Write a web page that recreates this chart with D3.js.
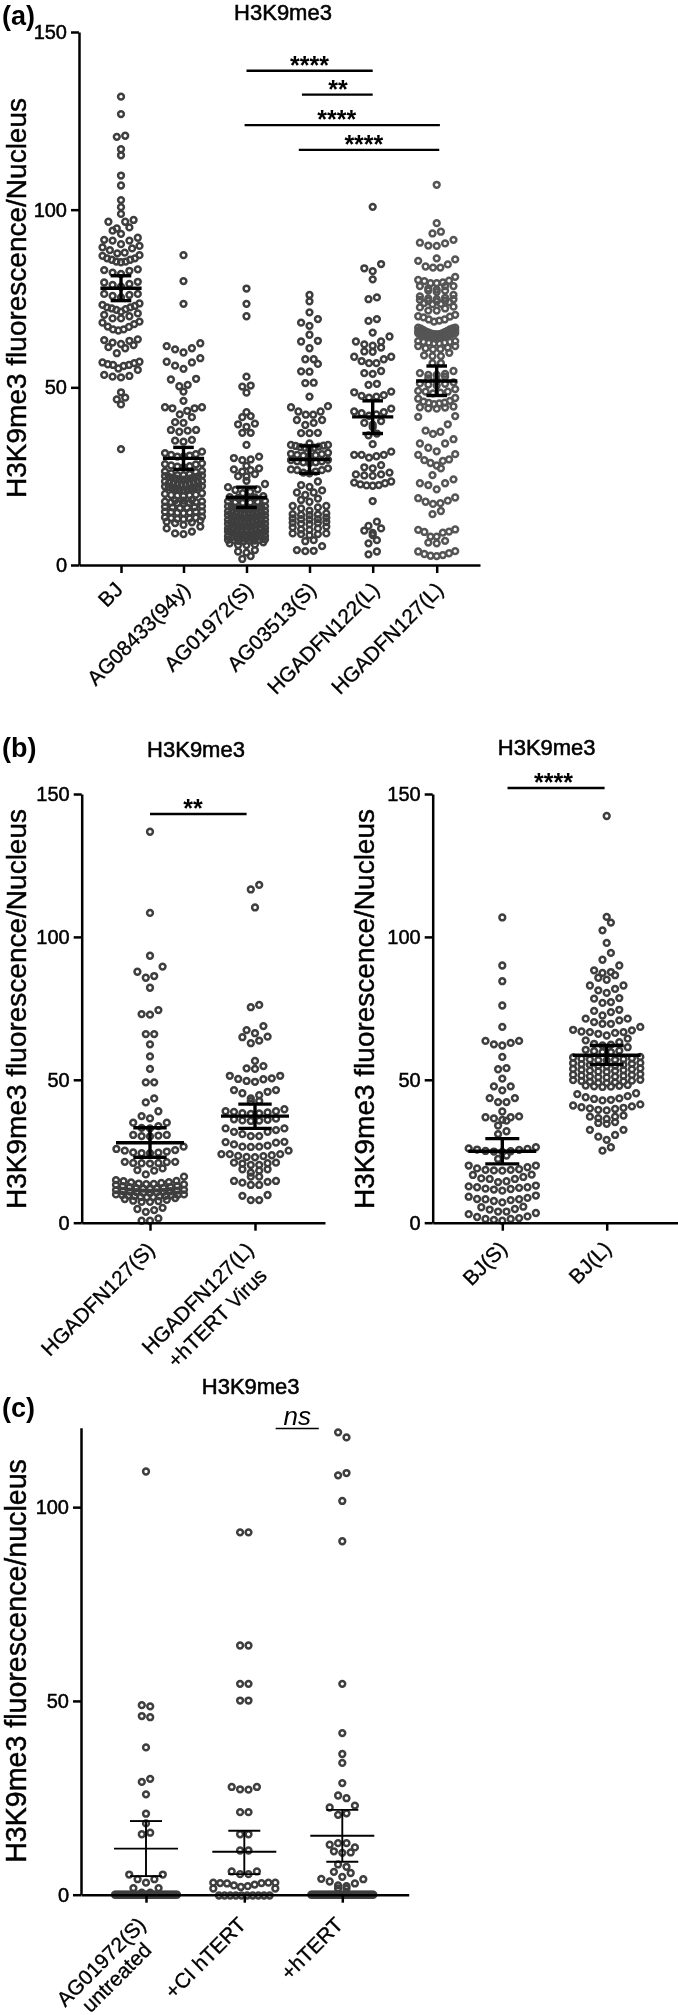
<!DOCTYPE html>
<html><head><meta charset="utf-8">
<script src="https://cdn.jsdelivr.net/npm/d3@7"></script>
<style>
html,body{margin:0;padding:0;background:#fff}
svg{display:block;filter:blur(0.35px)}
text{font-family:"Liberation Sans",Arial,sans-serif;fill:#000}
</style></head><body><svg id="chart" width="678" height="2015"></svg>
<script>
// ---------- DATA (each inner list is one row of the swarm) ----------
const aCategories = ["BJ","AG08433(94y)","AG01972(S)","AG03513(S)","HGADFN122(L)","HGADFN127(L)"];
const bjRows = [[131.8],[126.9],[120.8,120.5],[117],[115.3],[109.6],[106.8],[102.7],[100.7],[98.8],
 [97.1,96.6,96.6,94.7],[95,94.1,93.2],[92.1,91.5,91.3,91.3,90.3],[89.8,89.4,89.1,88.6,87.9,87.7],
 [87.2,87,86.3,86.3,85.9,85.9,85.4,85.4,85.2],[83.2,83,82.8,82.3,81.9],[79.7,79.5,79.1,78.8,78.3],
 [76.3,76.3,76,75.7,75.3],[73.6,73.2,72.9,72.5,72.5,72.2,72,71.8,71.3],[70.8,70.4,70,69.4,69.4],
 [68.5,68.2,67.8,67.1,67,66.3,66.3,66],[63.5,63.3,63.1,62.6,62.2],[61.9,61.3,61,59.6],
 [57.2,57,56.8,56.5,56.3,56.3,56,55.3],[54.9,53.5,53.2,53,52.8],[48.6],[47.1,46.6],[45.2],[32.6]];
const ag08433Rows = [[87.2],[79.9],[73.5],[62.4,61.6,61,60.7,59.8],[58.2,57.2,57,56.1,55.2],[52.4,52.2,50.7,50.3],[48.8],[46.2],
 [44.4,44.4,44.1,44.1,43.4,42.4],[41.6,40.2,40],[38,38,37.8,37.5],[35.2,35,34.7],[31.9,31.5,31.2,31,30.8,30.5,30.5],
 [28.6,28.4,28.3,28,27.8,27.7,27.5],[26.5,26.3,26.1,25.8,25.6,25.3,25.3],
 [25.2,25,24.9,24.8,24.7,24.6,24.4,24.3,24.2,24.1,24],[23.6,23.5,23.4,23.2,23.1,22.9,22.9,22.7,22.7,22.6],
 [22.2,22.1,22,21.9,21.8,21.6,21.5,21.4,21.3,21.2,21.1],[20.2,20,19.8,19.7,19.6,19.5,19.4],[18.3,18.2,18.1],
 [17.9,17.8,17.7,17.6,17.5,17.4,17.3],[16.5,16.4,16.3,16.2,16.1,16],[15.1,15,15,14.9,14.8,14.7,14.6],
 [13.6,13.4,13.3,13.2,13.1,13,12.9],[12.5,12.2,12,11.8,11.3],[10.8,10.3,9.4,8.9,8.7]];
const ag01972Rows = [[77.8],[73.5],[70],[53],[50.5,50.2],[48.5],[43],[41.9,41.6],[39.8,39.6,38.9],[37.2,37.2],[33.8],
 [30.5,30.1,29.7,29.5],[27.9],[27.2,26.9,26.7,26.3],[25.6,25,24.9],[23.7],[22.8,21.9,21.3,21.1,20.6,20.2],
 [19.4,19.1,19,18.9,18.8],[18,17.9,17.8,17.7,17.6,17.5],
 [16.5,16.5,16.3,16.3,16.1,16.1,15.9,15.9,15.7,15.7,15.6],[15.2,15.1,15,14.9,14.8,14.7,14.6,14.5,14.5,14.4],
 [14,14,13.9,13.8,13.7,13.6,13.5,13.4,13.3,13.2,13.1],[12.8,12.7,12.6,12.5,12.4,12.3,12.2,12.2,12.1,12],
 [11.6,11.6,11.5,11.4,11.3,11.2,11.1,11,10.9,10.9,10.8],[10.4,10.3,10.2,10.1,10,9.9,9.8,9.8,9.7],
 [9.4,9.4,9.2,9.2,9,9,8.8,8.8,8.6,8.6,8.5],[8.2,8.1,8,7.9,7.8,7.7,7.6,7.6,7.5],[7.2,7.1,7,7,6.9,6.8,6.8,6.7],
 [6.4,6.1,5.8,5.6,5.6],[4.2,3.8,3.5],[2.5,1.7]];
const ag03513Rows = [[76],[74.2],[71.1],[69.2,68.2,67.3],[64.8],[63.1,62.9,61],[57.9,57.9],[56.6,54.5,54.4],[51.3,51.2],[47.4],
 [44.7,44.4,43.2,43.2,42.3,42.3],[40.8,40.8,40,39.4],[37.2,37.1,37.1],[34.2],[33.8,33.8,33.6,33.5,33.3,33.2,33,33,32.8],
 [31.6,31.3,31.2,31,30.9,30.8,30.7],[29.6,29.5,29.2,29.2,28.9,28.9,28.7],[27.2,26.9,26.7,26.7,26.3,26,25.8],
 [23.5,22.5,22],[21,20.4,20.4,19.7],[18.7,18.3,17.8],[16.6,16.6,16.2,15.9,15.3],[14.5,14.3,14.2,14.1,14],
 [13.3,13.1,12.9,12.9,12.8],[12.1,11.9,11.8,11.6,11.5],[10.8,10.6,10.3,10,9.9],[8.9,8.9,8.7,8.7,8.4],[7,6.7],[5.3,4.2,4,3.9]];
const hgadfn122Rows = [[100.8],[84.7,83.5,82.7],[80.4],[75.3,74.8],[69.2,68.7],[65.4],[64.3,62.9,62.9,62.1,61.7],[61.2,60.1,60],
 [58.6,58.6,57.9,57.4,56.8,56.8],[54.6,54,53.8],[51,50.7],[48.8,48.6,47.8,47.6,47.4,47.1],[44,43.2,43,42.7,42.4,42],
 [40.5,40,39.5],[38.8],[37,36.5],[34],[31.9,31,31,31,30.6,30.2],[28.1,27.5,27.2],[26,25.5,25.5,25.2,25.1],
 [23.5,23.2,23,22.7,22.5,22.4,22.3],[18],[12.2,11],[10.3,9.7,9],[8.4],[7,6.1],[3.8,3]];
const hgadfn127Rows = [[107],[96.2],[93.8,93.3],[91.5,90.7,90.5,89.9,89.8],[86.3],[86,85.6,84.6,84,83.7,83.7],
 [81.1,80.2,80,79.9,79.5,79.3,79.3],[78.5,78.5,78.5,77.8,77.5],[77.2,77.2,76.8],[76,75.6,75.2,75,74.8],
 [74.8,74.6,74.4,74.3,74.2],[74,73.7,73.5,73.4],[72.7,72.5,72.2,71.6,71.6],
 [70.4,70,69.9,69.7,69.1,69.1,68.8,68.5],
 [66.8,66.8,66.6,66.5,66.3,66.1,65.9,65.7,65.5,65.4,65.2,65.1,65,65,64.9],
 [66,65.9,65.7,65.5,65.3,65.1,64.9,64.7,64.6,64.5,64.4,64.3,64.2,64.2],
 [65.3,65.2,65,64.8,64.6,64.4,64.2,64.1,63.9,63.8,63.6],[63,63,62.8,62.8,62.6,62.6,62.4,62.4],[61.6,61.6,61.2,61,60.8,60.7],
 [59.7,59,58.8,58.8],[56.8,56.8],[54.6,54,53.8,53.5,53.5],[53,52.5,52],[51.4,51.1,51,50.8,50.5],[49.5,49,48.8,48.8,48.5,48.3],
 [47,46.8,46.2,46,45.7,45.6,45.5,45.3],[44.6,44.4,44.3,44.1,44],[41.9,41.7,39.6,37.8,37.5,36.9],[35.4,34.2,34.2,33,32],
 [31.2,31,29.7,29.5,29.3,28.7,28],[27.2,25.3],[24.1,23,23,22.5,21.3],[19,18.8,18.1,17.8,17.4,17.2],[15.2,14.3],
 [10,9.9,9.4,9.3,9.1,8,8],[6.8,6.3,6.1],[3.9,3.8,3.3,3.1,2.8,2.6,2.5]];
const aMeans = [77.9,30,19,29.7,41.7,51.8];
const aUppers = [81.4,33.1,21.9,33.5,46.2,56];
const aLowers = [74.4,26.9,16.2,25.8,37,47.7];
const aTicks = [0,50,100,150];

const b1Categories = [["HGADFN127(S)"],["HGADFN127(L)","+hTERT Virus"]];
const hgadfn127sRows = [[136.8],[108.4],[93.4],[89.6,87.8,86.3,85.7],[82.2],[74.4,73,72.8],[66,66],[62.4],[58.2],[53.8],[49.1,49.1],[43.5,42.1],[39,37.3,36.5],[35,35,33.8,33.2,33],[30.7,30.7,30.5,30.3,30.2],
 [26.6,25.8,25.4,25.2,24.9,24.6,24.3,24.3,24.5],[21.3,21.3,21.2,20.9,20.9,20.7,20.8],[19,18.4,18.2,16.9],
 [16.1,14.9,14.6,14.5,14.2,14.1,13.9,13.7,13.6,13.5],[13.4,13.2,12.9,12.8,12.5,12.4,12.2,12.1,12,11.9,11.8],
 [11.5,11.4,11.2,11.1,11,10.9,10.8,10.7,10.6,10.5,10.4],[9.9,9.9,9.8,9.7,9.6,9.5,9.4,9.3,9.2,9,9,8.9],
 [8.6,8.3,8,7.7,7.6,7.3,7.3],[5.2,4.8,4.4,3.8],[1.5,0.7,0.7]];
const hgadfn127virusRows = [[118.2,116.6],[110.3],[76.2,75.4],[68.8,67.4,66.3],[65.1,64.9,63.7,62.8],[56.6],[54.8,54,53.8],[51.4,51.4,50.5,50.3,50.2,49.6,49.3],[46.4,46.4,45.8,45.3,44.6,43.5],[42.6,42.5],[39.7,39,39,38.8,38.6,38.3,38.2,38.1],[36.4,36.2,36,35.8,35.7,35.6],[33,33,32.4,31.8,31.8,31,30.3,30.3],[28.3,28.2,28,27.4,27,26.6,26.6,26.5],[25.2,24,24,24,23.6,23.4,23.3,23,22.9],[21,21,20.8,20.7,20.2,20.2],[18.7,18.7,18.2,17.5],[16.1,16.1],[14.6,14.6,14.3,14,13.2,13.2],[9.7,9.4,7.9,7.9]];
const b1Means = [28,37.3], b1Uppers = [33.2,41.5], b1Lowers = [22.9,33];
const b2Categories = [["BJ(S)"],["BJ(L)"]];
const bjsRows = [[106.8],[90],[84.5],[76],[68.5],[63.6,63.6,62.9,62.4,62],[58],[54.1,53.7],[50.4],[47.7,47.7,46.3],[43.6,43.6,42.2,42.2],[38.9],[37.2,36.9,36.9,36.5,36],[35.7,34],[32,31],
 [26.4,26,25.8,25.6,25.5,25.1,25,24.9,24.8],[23.5,22.3],[20,20,19.4,19,18.7,18.5,18.5,18.3,18.2],[16.8,16.7,16,15.5,15.3,15.3,14.5,14.2],[13,12.7,12.4,12.4,12.2,11.9,11.8,11.6,11.2],[9.5,9.1,8.7,8.3,8.2,8.2,7.9,7.6,7.1],[5.6,5.4,4.8,4.6,3.9,3.9],[3.4,3,2.2,2,1.6,1.3,1.3,1,0.7]];
const bjlRows = [[142.3],[107],[105,102.3],[97.9],[94.4,92],[90,88.3,87.7,87.4],[86.6,85.7,85],[83,83,81.8,81.3,80.4],[78.6,78.4,77.2,76.9],[74.5,74.1,73.7,72.5],[71.4,71.4,70.8,70.2,69.6,69.6],[68.5,67.5,67.3,66.9,66.7,66.7,66.4,66.1,65.5],[64.4,63.8,63.2,62.6,62.3,62],[61.4,60.5,60.2,60,59.7,59.7],[58,57.8,57.5,57.4,57.2,57.1,57,56.9,56.8],[55.9,55.8,55.6,55.5,55.3,55.2,55,54.9,54.8],[54,53.8,53.7,53.5,53.4,53.2,53.1,52.9,52.8],[52,51.8,51.7,51.5,51.4,51.2,51.1,50.9,50.8],[50,49.9,49.7,49.6,49.4,49.3,49.1,49,48.9],[48.2,48,47.9,47.7,47.6,47.5],[45.3,45,44.3,43.9,43.5,43.3,43,42.8],[41.4,41,40.7,40.4,40.2,40,39.8,39.5,39.3],[37.5,37.1,37.1,36.6,36.3],[35.2,34.9,34.6],[32.5,32.5,30.7,30.1,29],[26.4,25.2]];
const b2Means = [25,58.6], b2Uppers = [29.4,62], b2Lowers = [20.6,55.4];
const bTicks = [0,50,100,150];

const cCategories = [["AG01972(S)","untreated"],["+CI hTERT"],["+hTERT"]];
const untreatedRows = [[109.2],[48.9,48.6],[46.1,45.8],[38],[29.1,29.9],[25.9],[20.9],[18.4],[15.6,16],[3.1,4,4,5.2,5.2],[0.5,0.5,1.7,1.7],
 [0,0,0,0,0,0,0,0,0,0,0,0,0,0,0,0,0,0,0,0,0,0,0,0,0,0,0,0,0,0,0,0,0,0,0,0,0,0,0,0]];
const ciRows = [[93.5,93.5],[64.3,64.3],[54.4,54.4],[50.1,50.1],[27.2,27.1,27.8,27.8],[21.3,21.3],[15.6,15.6],[11.4,11.4],[5.3,5.3,6,6],[2,2.2,2.4,2.6,2.9,3,3,3.1,3.1,3.1],
 [-0.2,-0.2,-0.2,-0.2,-0.2,-0.2,-0.2,-0.2,-0.2,-0.2,1.6,1.6]];
const htertRows = [[119.3,118],[108.2,108.8],[101.6],[91.2],[54.4],[41.7],[36.3],[34],[28.8],[25.6,24.9],[20.6,21,22.5,23],[13.3,13.3,12.9,12.2],[10.8,11.2,10.9],[7.8,7.2],[4.6,5.9,5.6],[2.4,2.2,3.4,2.9,4.1,4],[1.6,1.6],
 [0,0,0,0,0,0,0,0,0,0,0,0,0,0,0,0,0,0,0,0,0,0,0,0,0,0,0,0,0,0,0,0,0,0,0,0,0,0,0,0]];
const cMeans = [11.9,11.1,15.2], cUppers = [19,16.5,21.9], cLowers = [4.8,5.3,8.5];
const cTicks = [0,50,100];

const aBrackets = [{from:2,to:4,value:139.1,at:3,label:"****"},{from:2.88,to:4,value:132.4,at:3.45,label:"**"},{from:1.97,to:5.05,value:123.8,at:3.43,label:"****"},{from:2.83,to:5.04,value:116.8,at:3.86,label:"****"}];
const b1Brackets = [{from:0,to:0.92,value:143,at:0.41,label:"**"}];
const b2Brackets = [{from:0.05,to:0.98,value:152.1,at:0.49,label:"****"}];

// ---------- DRAWING ----------
const svg = d3.select("#chart");
const DOT = "#3e3e3e";

function drawPanel(c){
  const g = svg.append("g");
  const y = d3.scaleLinear().domain([0,c.yMax]).range([c.y0,c.yTop]);
  const x = d3.scaleLinear().domain(c.xDomain).range(c.xRange);

  // swarm rows: centre-out placement, squeezed into the panel's half width
  const dots = [];
  c.groups.forEach((rows,i)=>rows.forEach(row=>{
    const r = c.sortRows ? row.slice().sort(d3.ascending) : row;
    const n = r.length, step = n>1 ? Math.min(c.step, 2*c.halfWidth/(n-1)) : 0;
    r.forEach((v,k)=>{
      let slot;
      if(n%2){ slot = k===0?0:(k%2? -(k+1)/2 : k/2); }
      else { const m=Math.floor(k/2)+0.5; slot = k%2? m : -m; }
      dots.push({i,v,dx:slot*step});
    });
  }));
  g.append("g").selectAll("circle").data(dots).join("circle")
    .attr("cx",d=>x(d.i)+d.dx).attr("cy",d=>y(d.v)).attr("r",c.r)
    .attr("fill","none").attr("stroke",d=>(c.colors&&c.colors[d.i])||DOT).attr("stroke-width",c.dotSW);

  // mean ± error
  const eb = g.append("g").attr("stroke","#000").attr("stroke-width",c.barSW).attr("fill","none");
  c.means.forEach((m,i)=>{
    const X=x(i);
    eb.append("line").attr("x1",X).attr("x2",X).attr("y1",y(c.uppers[i])).attr("y2",y(c.lowers[i]));
    eb.append("line").attr("x1",X-c.meanW).attr("x2",X+c.meanW).attr("y1",y(m)).attr("y2",y(m));
    [c.uppers[i],c.lowers[i]].forEach(v=>eb.append("line").attr("x1",X-c.capW).attr("x2",X+c.capW).attr("y1",y(v)).attr("y2",y(v)));
  });

  // axes
  const yAxis = d3.axisLeft(y).tickValues(c.ticks).tickSize(8).tickSizeOuter(0).tickPadding(4).tickFormat(d3.format("d"));
  const ya = g.append("g").attr("transform",`translate(${c.xRange[0]},0)`).call(yAxis);
  const xAxis = d3.axisBottom(x).tickValues(c.groups.map((_,i)=>i)).tickSize(8).tickSizeOuter(0).tickFormat("");
  const xa = g.append("g").attr("transform",`translate(0,${c.y0})`).call(xAxis);
  [ya,xa].forEach(a=>{a.selectAll("path,line").attr("stroke","#000").attr("stroke-width",c.axisSW);});
  ya.selectAll("text").attr("font-family","Liberation Sans").style("font-size","20px").attr("fill","#000").attr("stroke","#000").attr("stroke-width",0.5);

  // category labels
  c.categories.forEach((lines,i)=>{
    const t = g.append("g").attr("transform",`translate(${x(i)+c.labelDx[i]},${c.labelY}) rotate(-45)`);
    const first = t.append("text").attr("text-anchor","end").style("font-size",c.labelFs+"px").attr("stroke","#000").attr("stroke-width",0.35).text(lines[0]);
    if(lines[1]){
      const sec = t.append("text").attr("text-anchor","end").style("font-size",c.labelFs+"px").attr("stroke","#000").attr("stroke-width",0.35).attr("y",c.lineH).text(lines[1]);
      const off = (first.node().getComputedTextLength()-sec.node().getComputedTextLength())/2;
      sec.attr("x",-off);
    }
  });

  // y title
  g.append("text").attr("transform",`translate(${c.yLabelX},${c.yLabelY}) rotate(-90)`).attr("text-anchor","middle")
    .style("font-size",c.yLabelFs+"px").attr("stroke","#000").attr("stroke-width",0.45).text(c.yLabel);
  // chart title
  g.append("text").attr("x",c.titleX).attr("y",c.titleY).attr("text-anchor","middle").style("font-size",c.titleFs+"px").attr("stroke","#000").attr("stroke-width",0.55).text("H3K9me3");

  // significance brackets
  (c.brackets||[]).forEach(b=>{
    g.append("line").attr("x1",x(b.from)).attr("x2",x(b.to)).attr("y1",y(b.value)).attr("y2",y(b.value)).attr("stroke","#000").attr("stroke-width",2.3);
    g.append("text").attr("x",x(b.at)).attr("y",y(b.value)+c.starDy).attr("text-anchor","middle").style("font-size","25px").style("font-weight","bold").text(b.label);
  });
  return {x,y,g};
}

function panelLabel(t,yy){ svg.append("text").attr("x",2).attr("y",yy).style("font-size","27px").style("font-weight","bold").text(t); }

const common = {sortRows:true,r:2.9,dotSW:2.5,barSW:3.4,axisSW:2.5,starDy:3.4,yMax:150,labelFs:20.8,lineH:27.6,yLabelFs:28,step:8.4,titleFs:22};

drawPanel({...common,
  groups:[bjRows,ag08433Rows,ag01972Rows,ag03513Rows,hgadfn122Rows,hgadfn127Rows],
  categories:aCategories.map(d=>[d]),
  colors:[null,null,null,null,null,"#555555"],
  means:aMeans,uppers:aUppers,lowers:aLowers,ticks:aTicks,brackets:aBrackets,
  y0:565,yTop:32,halfWidth:18.5,
  xDomain:[-0.673,0,1,2,3,4,5,5.68],xRange:[79,121,183.5,246.5,309.5,372.7,436.7,480],
  meanW:20.6,capW:10.3,
  labelDx:[3,8,8,8,8,8],labelY:591,
  yLabel:"H3K9me3 fluorescence/Nucleus",yLabelX:25.5,yLabelY:298,
  titleX:283,titleY:20});

drawPanel({...common,
  groups:[hgadfn127sRows,hgadfn127virusRows],categories:b1Categories,
  means:b1Means,uppers:b1Uppers,lowers:b1Lowers,ticks:bTicks,brackets:b1Brackets,
  y0:1222.7,yTop:794,halfWidth:34,
  xDomain:[-0.65,0,1,1.67],xRange:[81.7,150,255,325],
  meanW:34,capW:16.7,
  labelDx:[6,0],labelY:1251,
  yLabel:"H3K9me3 fluorescence/Nucleus",yLabelX:25.5,yLabelY:1009,
  titleX:196,titleY:757});

drawPanel({...common,
  groups:[bjsRows,bjlRows],categories:b2Categories,
  means:b2Means,uppers:b2Uppers,lowers:b2Lowers,ticks:bTicks,brackets:b2Brackets,
  y0:1222.7,yTop:794,halfWidth:34,
  xDomain:[-0.667,0,1,1.68],xRange:[432.7,502.3,606.7,678],
  meanW:34,capW:17,
  labelDx:[6,6],labelY:1250,
  yLabel:"H3K9me3 fluorescence/Nucleus",yLabelX:374,yLabelY:1009,
  titleX:546.7,titleY:755});

const pc = drawPanel({...common,sortRows:false,barSW:1.9,
  groups:[untreatedRows,ciRows,htertRows],categories:cCategories,
  means:cMeans,uppers:cUppers,lowers:cLowers,ticks:cTicks,
  yMax:120.5,y0:1894.7,yTop:1427.7,halfWidth:31,
  xDomain:[-0.66,0,1,2,2.67],xRange:[81,146,244.3,342.3,408.7],
  meanW:32,capW:16,
  labelDx:[1,3,2],labelY:1926,lineH:22,
  yLabel:"H3K9me3 fluorescence/nucleus",yLabelX:26,yLabelY:1661,yLabelFs:28.6,
  titleX:250.7,titleY:1394});
// ns comparison
pc.g.append("line").attr("x1",pc.x(1.32)).attr("x2",pc.x(1.76)).attr("y1",pc.y(120.3)).attr("y2",pc.y(120.3)).attr("stroke","#000").attr("stroke-width",1.5);
pc.g.append("text").attr("x",pc.x(1.54)).attr("y",pc.y(120.3)-3.5).attr("text-anchor","middle").style("font-size","26px").style("font-style","italic").text("ns");

panelLabel("(a)",25); panelLabel("(b)",757); panelLabel("(c)",1417);
</script></body></html>
